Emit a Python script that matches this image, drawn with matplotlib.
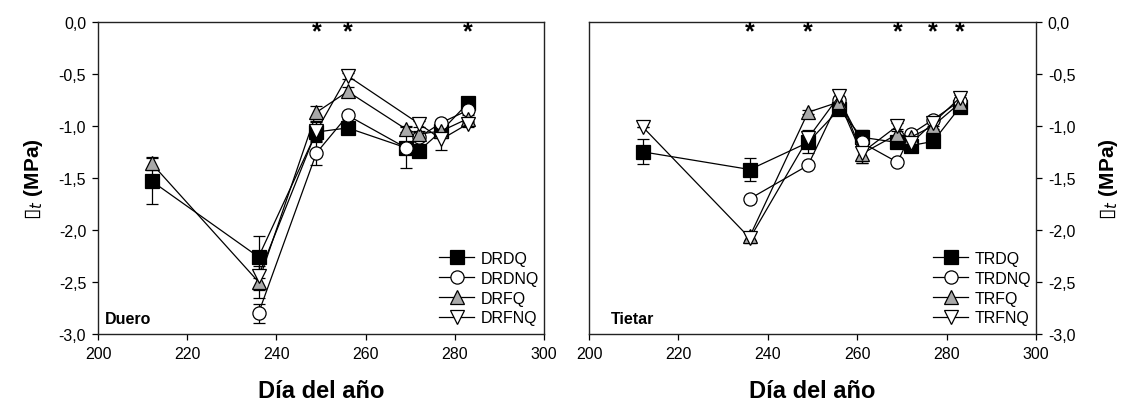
import matplotlib

matplotlib.use("Agg")
import matplotlib.pyplot as plt
from matplotlib.ticker import FuncFormatter

plt.rcParams["font.family"] = ["Liberation Sans", "DejaVu Sans"]

# Duero
duero_labels = ["DRDQ", "DRDNQ", "DRFQ", "DRFNQ"]
duero_days = [
    [212, 236, 249, 256, 269, 272, 277, 283],
    [236, 249, 256, 269, 272, 277, 283],
    [212, 236, 249, 256, 269, 272, 277, 283],
    [236, 249, 256, 272, 277, 283],
]
duero_psi = [
    [-1.53, -2.26, -1.06, -1.02, -1.21, -1.24, -1.05, -0.78],
    [-2.80, -1.26, -0.90, -1.21, -1.11, -0.97, -0.85],
    [-1.36, -2.50, -0.87, -0.67, -1.03, -1.08, -1.05, -0.93],
    [-2.44, -1.05, -0.52, -0.98, -1.13, -0.98],
]
duero_err = [
    [0.22, 0.20, 0.10, 0.03, 0.03, 0.03, 0.03, 0.03],
    [0.09, 0.12, 0.03, 0.20, 0.03, 0.03, 0.03],
    [0.06, 0.15, 0.06, 0.04, 0.03, 0.03, 0.03, 0.03],
    [0.14, 0.10, 0.03, 0.03, 0.10, 0.03],
]
duero_stars = [249, 256, 283]

# Tietar
tietar_labels = ["TRDQ", "TRDNQ", "TRFQ", "TRFNQ"]
tietar_days = [
    [212, 236, 249, 256, 261, 269, 272, 277, 283],
    [236, 249, 256, 261, 269, 272, 277, 283],
    [236, 249, 256, 261, 269, 272, 277, 283],
    [212, 236, 249, 256, 261, 269, 272, 277, 283],
]
tietar_psi = [
    [-1.25, -1.42, -1.16, -0.84, -1.11, -1.16, -1.19, -1.15, -0.82],
    [-1.70, -1.38, -0.75, -1.16, -1.35, -1.08, -0.94, -0.76],
    [-2.06, -0.87, -0.77, -1.27, -1.08, -1.11, -1.00, -0.78],
    [-1.01, -2.08, -1.12, -0.71, -1.26, -1.00, -1.17, -0.97, -0.73],
]
tietar_err = [
    [0.12, 0.11, 0.10, 0.03, 0.07, 0.03, 0.03, 0.03, 0.03],
    [0.02, 0.02, 0.03, 0.03, 0.02, 0.03, 0.03, 0.03],
    [0.04, 0.02, 0.05, 0.09, 0.03, 0.03, 0.03, 0.03],
    [0.00, 0.05, 0.08, 0.05, 0.10, 0.03, 0.03, 0.03, 0.03],
]
tietar_stars = [236, 249, 269, 277, 283]

styles = [
    dict(marker="s", mfc="black"),
    dict(marker="o", mfc="white"),
    dict(marker="^", mfc="#a9a9a9"),
    dict(marker="v", mfc="white"),
]

# the box is a missing-glyph square in the original figure
ylabel = r"$\mathbf{▯}_t$ (MPa)"


def draw_panel(ax, labels, days, psi, err, stars, site):
    handles = []
    for label, x, y, e, style in zip(labels, days, psi, err, styles):
        bars = ax.errorbar(
            x, y, yerr=e, color="black", lw=0.9, ms=9.5, mec="black", mew=0.9,
            capsize=4, elinewidth=0.9, capthick=0.9, label=label, **style,
        )
        handles.append(bars[0])
    for day in stars:
        ax.text(day, -0.095, "*", ha="center", va="center", fontsize=18,
                fontweight="bold")
    ax.text(0.016 if site == "Duero" else 0.048, 0.025, site,
            transform=ax.transAxes, fontsize=11.5, fontweight="bold",
            ha="left", va="bottom")
    ax.set_xlim(200, 300)
    ax.set_ylim(-3.0, 0.0)
    ax.set_xticks(range(200, 301, 20))
    ax.set_yticks([0.0, -0.5, -1.0, -1.5, -2.0, -2.5, -3.0])
    ax.yaxis.set_major_formatter(FuncFormatter(lambda v, _: f"{v:.1f}".replace(".", ",")))
    ax.tick_params(direction="out", length=4.5, width=0.9, labelsize=11.5, pad=4)
    for spine in ax.spines.values():
        spine.set_linewidth(1.0)
        spine.set_color("#222222")
    ax.set_xlabel("Día del año", fontsize=17, fontweight="bold", labelpad=13)
    ax.legend(handles=handles, labels=labels, loc="lower right",
              bbox_to_anchor=(1.0, 0.012), frameon=False,
              fontsize=11.5, handlelength=2.2, handletextpad=0.4,
              labelspacing=0.3, borderaxespad=0.1, borderpad=0.2)


fig = plt.figure(figsize=(11.23, 4.06), dpi=100)
ax1 = fig.add_axes([0.0873, 0.175, 0.397, 0.769])
ax2 = fig.add_axes([0.5245, 0.175, 0.398, 0.769])

draw_panel(ax1, duero_labels, duero_days, duero_psi, duero_err, duero_stars, "Duero")
draw_panel(ax2, tietar_labels, tietar_days, tietar_psi, tietar_err, tietar_stars, "Tietar")

ax1.set_ylabel(ylabel, fontsize=15, fontweight="bold", labelpad=10)
ax2.yaxis.tick_right()
ax2.yaxis.set_label_position("right")
ax2.set_ylabel(ylabel, fontsize=15, fontweight="bold", labelpad=16)

fig.savefig("out.png", dpi=100)
